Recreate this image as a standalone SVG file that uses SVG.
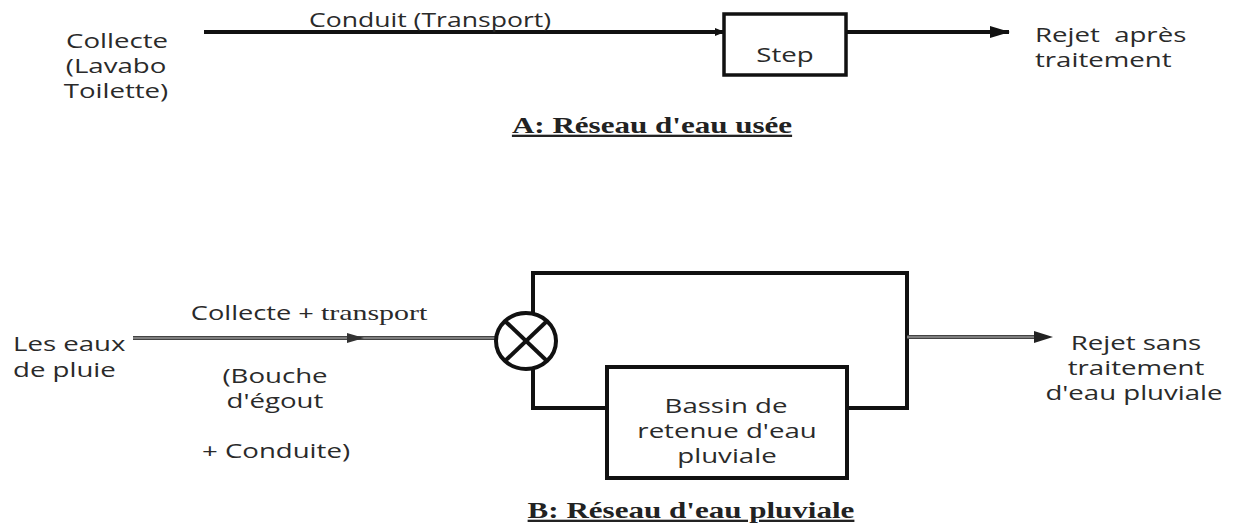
<svg xmlns="http://www.w3.org/2000/svg" width="1237" height="531" viewBox="0 0 1237 531">
<style>
.t{font-family:"Open Sans","DejaVu Sans",sans-serif;font-size:20px;fill:#2a2a2a;text-anchor:middle}
.s{font-family:"Liberation Serif",serif;font-size:22px}
.ttl{font-family:"Liberation Serif",serif;font-size:23px;font-weight:bold;fill:#222;text-decoration:underline;text-anchor:middle}
.ln{stroke:#111;stroke-width:4;fill:none}
.dl{stroke:#444;stroke-width:4;fill:none}
.dli{stroke:#bbb;stroke-width:1;fill:none}
</style>
<defs>
<marker id="ah" markerWidth="10" markerHeight="8" refX="9" refY="4" orient="auto" markerUnits="userSpaceOnUse" viewBox="0 0 10 8">
<path d="M0,0 L10,4 L0,8 Z" fill="#111"/>
</marker>
<marker id="ah2" markerWidth="20" markerHeight="12" refX="19" refY="6" orient="auto" markerUnits="userSpaceOnUse" viewBox="0 0 20 12">
<path d="M0,0 L20,6 L0,12 Z" fill="#111"/>
</marker>
</defs>
<rect width="1237" height="531" fill="#fff"/>
<g id="connectors">
<line x1="204" y1="32" x2="724" y2="32" class="ln" marker-end="url(#ah)"/>
<line x1="846" y1="32" x2="1009" y2="32" class="ln" marker-end="url(#ah2)"/>
<line x1="133" y1="338" x2="496" y2="338" class="dl"/>
<line x1="133" y1="338" x2="496" y2="338" class="dli"/>
<path d="M347,333 L364,338 L347,343 Z" fill="#333"/>
<path d="M533,314 L533,273 L907,273 L907,408 L847,408" class="ln"/>
<path d="M533,369 L533,408 L607,408" class="ln"/>
<line x1="907" y1="337" x2="1040" y2="337" class="dl"/>
<line x1="907" y1="337" x2="1040" y2="337" class="dli"/>
<path d="M1034,331 L1053,337 L1034,343 Z" fill="#222"/>
</g>
<g id="collecte">
<text class="t" transform="translate(117,48) scale(1.38,1)">Collecte</text>
<text class="t" transform="translate(116,73) scale(1.38,1)">(Lavabo</text>
<text class="t" transform="translate(116,98) scale(1.38,1)">Toilette)</text>
</g>
<g id="conduit-label">
<text class="t" transform="translate(430,27) scale(1.33,1)">Conduit (Transport)</text>
</g>
<g id="step">
<rect x="724" y="14" width="122" height="61" fill="#fff" stroke="#111" stroke-width="3.5"/>
<text class="t" transform="translate(785,62) scale(1.38,1)">Step</text>
</g>
<g id="rejet-apres">
<text class="t" transform="translate(1035,42) scale(1.38,1)" style="text-anchor:start" xml:space="preserve">Rejet  après</text>
<text class="t" transform="translate(1035,67) scale(1.38,1)" style="text-anchor:start">traitement</text>
</g>
<g id="title-a">
<text class="ttl" transform="translate(652,133) scale(1.35,1)">A: Réseau d'eau usée</text>
</g>
<g id="eaux-pluie">
<text class="t" transform="translate(13,351) scale(1.38,1)" style="text-anchor:start">Les eaux</text>
<text class="t" transform="translate(13,377) scale(1.38,1)" style="text-anchor:start">de pluie</text>
</g>
<g id="collecte-transport">
<text class="t" transform="translate(309,320) scale(1.36,1)">Collecte + <tspan class="s">transport</tspan></text>
<text class="t" transform="translate(275,383) scale(1.38,1)">(Bouche</text>
<text class="t" transform="translate(275,408) scale(1.38,1)">d'égout</text>
<text class="t" transform="translate(276,458) scale(1.38,1)">+ Conduite)</text>
</g>
<g id="melangeur">
<ellipse cx="526" cy="341" rx="30" ry="28" fill="#fff" stroke="#111" stroke-width="4"/>
<line x1="505" y1="321" x2="547" y2="361" stroke="#111" stroke-width="4"/>
<line x1="547" y1="321" x2="505" y2="361" stroke="#111" stroke-width="4"/>
</g>
<g id="bassin">
<rect x="607" y="367" width="240" height="111" fill="#fff" stroke="#111" stroke-width="4"/>
<text class="t" transform="translate(726,413) scale(1.38,1)">Bassin de</text>
<text class="t" transform="translate(727,438) scale(1.38,1)">retenue d'eau</text>
<text class="t" transform="translate(727,463) scale(1.38,1)">pluviale</text>
</g>
<g id="rejet-sans">
<text class="t" transform="translate(1136,350) scale(1.38,1)">Rejet sans</text>
<text class="t" transform="translate(1136,375) scale(1.38,1)">traitement</text>
<text class="t" transform="translate(1134,400) scale(1.38,1)">d'eau pluviale</text>
</g>
<g id="title-b">
<text class="ttl" transform="translate(691,518) scale(1.35,1)">B: Réseau d'eau pluviale</text>
</g>
</svg>
